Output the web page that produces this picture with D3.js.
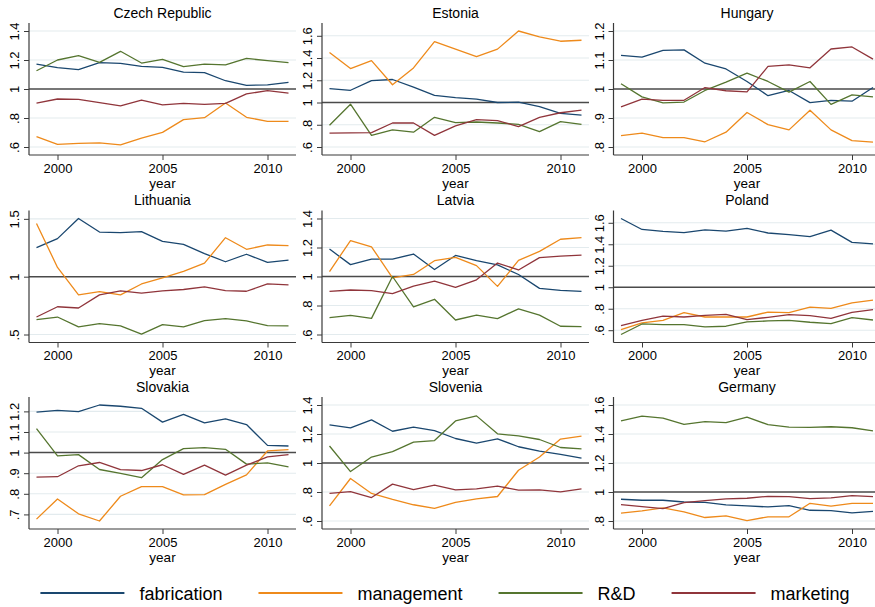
<!DOCTYPE html>
<html>
<head>
<meta charset="utf-8">
<script src="https://cdn.jsdelivr.net/npm/d3@7"></script>
<style>
  html, body { margin: 0; padding: 0; background: #fff; }
  svg { display: block; }
  text { font-family: "Liberation Sans", Arial, Helvetica, sans-serif; fill: #000; }
</style>
</head>
<body>
<svg id="chart" width="875" height="607"></svg>
<script>
// ---------------- data ----------------
const years = [1999, 2000, 2001, 2002, 2003, 2004, 2005, 2006, 2007, 2008, 2009, 2010, 2011];
const xTicks = [2000, 2005, 2010];
const seriesNames = ["fabrication", "management", "R&D", "marketing"];
const countries = ["Czech Republic", "Estonia", "Hungary", "Lithuania", "Latvia", "Poland", "Slovakia", "Slovenia", "Germany"];

// Czech Republic
const czFabrication = [1.172, 1.147, 1.133, 1.182, 1.177, 1.156, 1.149, 1.117, 1.113, 1.057, 1.025, 1.028, 1.046];
const czManagement  = [0.671, 0.618, 0.625, 0.628, 0.614, 0.662, 0.701, 0.789, 0.802, 0.903, 0.805, 0.777, 0.777];
const czRD          = [1.126, 1.200, 1.230, 1.184, 1.260, 1.179, 1.205, 1.154, 1.172, 1.166, 1.211, 1.195, 1.182];
const czMarketing   = [0.903, 0.931, 0.929, 0.906, 0.883, 0.924, 0.890, 0.901, 0.894, 0.901, 0.966, 0.989, 0.972];
const czTicks = [0.6, 0.8, 1, 1.2, 1.4];

// Estonia
const eeFabrication = [1.124, 1.110, 1.196, 1.207, 1.139, 1.065, 1.044, 1.030, 1.000, 1.003, 0.964, 0.902, 0.887];
const eeManagement  = [1.450, 1.305, 1.376, 1.160, 1.311, 1.548, 1.480, 1.412, 1.480, 1.643, 1.590, 1.551, 1.560];
const eeRD          = [0.796, 0.985, 0.704, 0.754, 0.733, 0.867, 0.819, 0.825, 0.816, 0.804, 0.739, 0.828, 0.804];
const eeMarketing   = [0.724, 0.727, 0.730, 0.816, 0.816, 0.704, 0.790, 0.846, 0.837, 0.784, 0.867, 0.908, 0.932];
const eeTicks = [0.6, 0.8, 1, 1.2, 1.4, 1.6];

// Hungary
const huFabrication = [1.116, 1.110, 1.133, 1.135, 1.089, 1.069, 1.026, 0.977, 0.995, 0.953, 0.961, 0.958, 1.005];
const huManagement  = [0.839, 0.848, 0.832, 0.832, 0.818, 0.851, 0.919, 0.877, 0.859, 0.927, 0.859, 0.822, 0.817];
const huRD          = [1.018, 0.973, 0.952, 0.955, 0.995, 1.024, 1.055, 1.026, 0.989, 1.026, 0.947, 0.980, 0.973];
const huMarketing   = [0.938, 0.965, 0.961, 0.961, 1.005, 0.994, 0.990, 1.078, 1.083, 1.073, 1.138, 1.145, 1.103];
const huTicks = [0.8, 0.9, 1, 1.1, 1.2];

// Lithuania
const ltFabrication = [1.251, 1.329, 1.503, 1.386, 1.380, 1.389, 1.306, 1.280, 1.200, 1.129, 1.194, 1.123, 1.143];
const ltManagement  = [1.460, 1.080, 0.843, 0.871, 0.843, 0.937, 0.989, 1.046, 1.117, 1.337, 1.237, 1.274, 1.269];
const ltRD          = [0.629, 0.651, 0.566, 0.594, 0.574, 0.503, 0.586, 0.566, 0.620, 0.637, 0.617, 0.577, 0.574];
const ltMarketing   = [0.651, 0.740, 0.729, 0.843, 0.877, 0.857, 0.877, 0.889, 0.911, 0.880, 0.874, 0.937, 0.929];
const ltTicks = [0.5, 1, 1.5];

// Latvia
const lvFabrication = [1.189, 1.082, 1.120, 1.120, 1.155, 1.048, 1.145, 1.109, 1.080, 1.014, 0.918, 0.905, 0.898];
const lvManagement  = [1.034, 1.248, 1.205, 0.991, 1.014, 1.109, 1.132, 1.075, 0.932, 1.111, 1.173, 1.257, 1.268];
const lvRD          = [0.716, 0.732, 0.711, 1.000, 0.791, 0.843, 0.700, 0.734, 0.709, 0.777, 0.734, 0.657, 0.655];
const lvMarketing   = [0.898, 0.907, 0.902, 0.882, 0.934, 0.968, 0.925, 0.977, 1.093, 1.045, 1.130, 1.141, 1.148];
const lvTicks = [0.6, 0.8, 1, 1.2, 1.4];

// Poland
const plFabrication = [1.640, 1.538, 1.520, 1.508, 1.535, 1.523, 1.548, 1.505, 1.489, 1.471, 1.532, 1.418, 1.403];
const plManagement  = [0.606, 0.668, 0.692, 0.763, 0.723, 0.723, 0.723, 0.769, 0.763, 0.815, 0.803, 0.855, 0.880];
const plRD          = [0.560, 0.658, 0.652, 0.652, 0.631, 0.637, 0.677, 0.686, 0.692, 0.674, 0.662, 0.717, 0.695];
const plMarketing   = [0.643, 0.692, 0.732, 0.723, 0.738, 0.748, 0.698, 0.720, 0.745, 0.735, 0.711, 0.766, 0.791];
const plTicks = [0.6, 0.8, 1, 1.2, 1.4, 1.6];

// Slovakia
const skFabrication = [1.196, 1.205, 1.199, 1.231, 1.225, 1.215, 1.148, 1.185, 1.144, 1.164, 1.136, 1.035, 1.032];
const skManagement  = [0.677, 0.775, 0.703, 0.668, 0.788, 0.835, 0.835, 0.795, 0.796, 0.846, 0.892, 1.008, 1.014];
const skRD          = [1.116, 0.984, 0.990, 0.918, 0.899, 0.878, 0.966, 1.019, 1.024, 1.016, 0.944, 0.950, 0.931];
const skMarketing   = [0.881, 0.883, 0.936, 0.952, 0.917, 0.913, 0.941, 0.894, 0.939, 0.891, 0.939, 0.979, 0.990];
const skTicks = [0.7, 0.8, 0.9, 1, 1.1, 1.2];

// Slovenia
const siFabrication = [1.263, 1.242, 1.297, 1.219, 1.247, 1.224, 1.169, 1.137, 1.167, 1.112, 1.082, 1.059, 1.034];
const siManagement  = [0.705, 0.893, 0.790, 0.749, 0.712, 0.687, 0.728, 0.753, 0.769, 0.950, 1.041, 1.165, 1.185];
const siRD          = [1.117, 0.941, 1.041, 1.078, 1.144, 1.155, 1.290, 1.325, 1.201, 1.187, 1.162, 1.107, 1.098];
const siMarketing   = [0.790, 0.803, 0.762, 0.854, 0.817, 0.847, 0.815, 0.822, 0.840, 0.813, 0.815, 0.801, 0.822];
const siTicks = [0.6, 0.8, 1, 1.2, 1.4];

// Germany
const deFabrication = [0.950, 0.943, 0.943, 0.931, 0.929, 0.911, 0.904, 0.897, 0.906, 0.874, 0.872, 0.856, 0.867];
const deManagement  = [0.854, 0.870, 0.890, 0.863, 0.824, 0.835, 0.803, 0.829, 0.829, 0.922, 0.902, 0.922, 0.922];
const deRD          = [1.491, 1.523, 1.510, 1.466, 1.485, 1.478, 1.517, 1.464, 1.448, 1.446, 1.450, 1.443, 1.421];
const deMarketing   = [0.913, 0.899, 0.886, 0.927, 0.941, 0.952, 0.957, 0.970, 0.968, 0.954, 0.959, 0.975, 0.968];
const deTicks = [0.8, 1, 1.2, 1.4, 1.6];

const panelSeries = [
  [czFabrication, czManagement, czRD, czMarketing],
  [eeFabrication, eeManagement, eeRD, eeMarketing],
  [huFabrication, huManagement, huRD, huMarketing],
  [ltFabrication, ltManagement, ltRD, ltMarketing],
  [lvFabrication, lvManagement, lvRD, lvMarketing],
  [plFabrication, plManagement, plRD, plMarketing],
  [skFabrication, skManagement, skRD, skMarketing],
  [siFabrication, siManagement, siRD, siMarketing],
  [deFabrication, deManagement, deRD, deMarketing]
];
const panelTicks = [czTicks, eeTicks, huTicks, ltTicks, lvTicks, plTicks, skTicks, siTicks, deTicks];

// ---------------- style / layout ----------------
const colors = ["#1a476f", "#ee8a1b", "#55752f", "#90353b"];
const colLeft = [29, 322, 613.5];
const rowTop = [23, 210.5, 397];
const plotW = 267, plotH = 132;
const padX = 7.5, padY = 8;
const gridColor = "#e3ebee";
const axisColor = "#3a3a3a";

const svg = d3.select("#chart");
svg.append("rect").attr("width", 875).attr("height", 607).attr("fill", "#fff");

const fmt = d => (d > 0 && d < 1) ? String(+d.toFixed(2)).replace(/^0/, "") : String(+d.toFixed(2));

countries.forEach((name, i) => {
  const L = colLeft[i % 3];
  const T = rowTop[Math.floor(i / 3)];
  const B = T + plotH;
  const g = svg.append("g");
  const series = panelSeries[i];
  const ticks = panelTicks[i];

  const all = series.flat().concat(ticks);
  const x = d3.scaleLinear().domain([years[0], years[years.length - 1]]).range([L + padX, L + plotW - padX]);
  const y = d3.scaleLinear().domain(d3.extent(all)).range([B - padY, T + padY]);

  // gridlines
  g.selectAll(".grid").data(ticks.filter(t => t !== 1)).join("line")
    .attr("x1", L).attr("x2", L + plotW)
    .attr("y1", d => y(d)).attr("y2", d => y(d))
    .attr("stroke", gridColor).attr("stroke-width", 1.1);

  // reference line at 1
  g.append("line")
    .attr("x1", L).attr("x2", L + plotW)
    .attr("y1", y(1)).attr("y2", y(1))
    .attr("stroke", "#4a4a4a").attr("stroke-width", 1.5);

  // data lines
  const line = d3.line().x((d, k) => x(years[k])).y(d => y(d));
  series.forEach((vals, s) => {
    g.append("path").datum(vals)
      .attr("d", line)
      .attr("fill", "none")
      .attr("stroke", colors[s])
      .attr("stroke-width", 1.3)
      .attr("stroke-linejoin", "round");
  });

  // y axis
  const yAxis = d3.axisLeft(y).tickValues(ticks).tickSize(5).tickFormat(fmt);
  const ya = g.append("g").attr("transform", `translate(${L},0)`).call(yAxis);
  ya.select(".domain").attr("d", `M0,${T}V${B}`).attr("stroke", axisColor).attr("stroke-width", 1.2);
  ya.selectAll(".tick line").attr("stroke", axisColor).attr("stroke-width", 1);
  ya.selectAll(".tick text")
    .attr("x", 0).attr("y", 0).attr("dy", null)
    .attr("transform", "translate(-10,0) rotate(-90)")
    .attr("text-anchor", "middle")
    .attr("font-size", 13)
    .attr("font-family", "Liberation Sans, Arial, sans-serif")
    .attr("fill", "#000");

  // x axis
  const xAxis = d3.axisBottom(x).tickValues(xTicks).tickSize(5).tickFormat(d3.format("d"));
  const xa = g.append("g").attr("transform", `translate(0,${B})`).call(xAxis);
  xa.select(".domain").attr("d", `M${L},0H${L + plotW}`).attr("stroke", axisColor).attr("stroke-width", 1.2);
  xa.selectAll(".tick line").attr("stroke", axisColor).attr("stroke-width", 1);
  xa.selectAll(".tick text")
    .attr("y", 17.5).attr("dy", null)
    .attr("font-size", 13)
    .attr("font-family", "Liberation Sans, Arial, sans-serif")
    .attr("fill", "#000");

  // x title
  g.append("text")
    .attr("x", L + plotW / 2).attr("y", B + 32.5)
    .attr("text-anchor", "middle")
    .attr("font-size", 13.5)
    .text("year");

  // panel title
  g.append("text")
    .attr("x", L + plotW / 2).attr("y", T - 5.5)
    .attr("text-anchor", "middle")
    .attr("font-size", 14)
    .text(name);
});

// ---------------- legend ----------------
const legend = svg.append("g");
const keyLen = 84, keyGap = 15, colGap = 36, legendY = 593, legendFont = 18;
let items = [];
let cursor = 0;
seriesNames.forEach((nm, s) => {
  const item = legend.append("g");
  item.append("line")
    .attr("x1", 0).attr("x2", keyLen).attr("y1", 0).attr("y2", 0)
    .attr("stroke", colors[s]).attr("stroke-width", 2);
  const t = item.append("text")
    .attr("x", keyLen + keyGap).attr("y", 6.5)
    .attr("font-size", legendFont)
    .text(nm);
  const w = t.node().getComputedTextLength();
  items.push({ item, w });
});
const totalW = items.reduce((a, it) => a + keyLen + keyGap + it.w, 0) + colGap * (items.length - 1);
cursor = 445 - totalW / 2;
items.forEach(it => {
  it.item.attr("transform", `translate(${cursor},${legendY})`);
  cursor += keyLen + keyGap + it.w + colGap;
});
</script>
</body>
</html>
